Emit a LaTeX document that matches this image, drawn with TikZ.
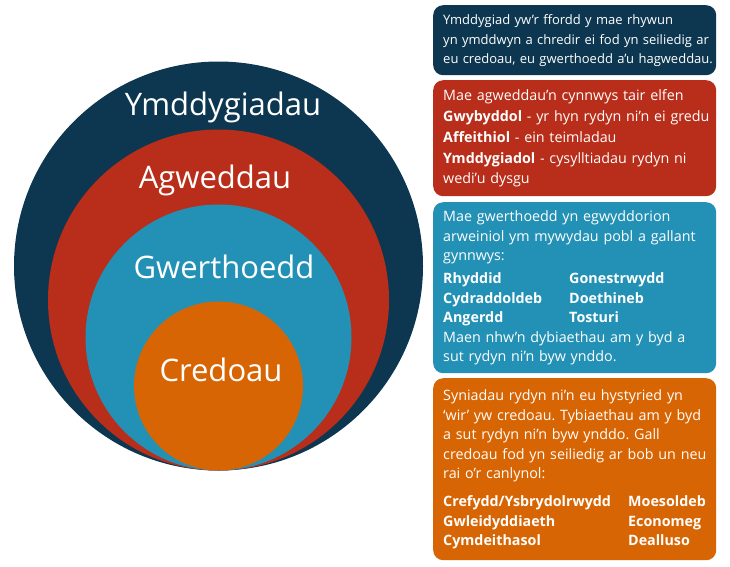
\documentclass[tikz,border=0pt]{standalone}
\usepackage{fontspec}
\setmainfont{Open Sans}
\definecolor{navy}{HTML}{0D3750}
\definecolor{brick}{HTML}{B82E1A}
\definecolor{teal}{HTML}{2391B5}
\definecolor{amber}{HTML}{D86503}
\frenchspacing
\begin{document}
\begin{tikzpicture}[x=1pt,y=1pt,every text node part/.style={align=left},
    ring/.style={circle,inner sep=0pt},
    ringlabel/.style={text=white,anchor=base,font=\fontsize{31}{31}\selectfont},
    infobox/.style={rounded corners=10pt,text=white,anchor=north west,
      text width=263pt,inner xsep=10pt,inner ysep=0pt,
      font=\fontsize{14.3}{#1}\selectfont},
    infobox/.default=20]

    \useasboundingbox (0,0) rectangle (730,-566);

    % --------------------------------------------------------- %
    % ------------- nested circles
    % --------------------------------------------------------- %
    \node[ring,fill=navy,minimum size=409pt] (behav) at (218.5,-266) {};
    \node[ring,fill=brick,minimum size=341pt] (attit) at (218.5,-300) {};
    \node[ring,fill=teal,minimum size=266pt] (values) at (218.5,-337.5) {};
    \node[ring,fill=amber,minimum size=169pt] (belief) at (218.5,-386) {};

    % --- circle labels
    \node[ringlabel] (behavlbl) at (223,-115) {Ymddygiadau};
    \node[ringlabel] (attitlbl) at (215,-188) {Agweddau};
    \node[ringlabel] (valueslbl) at (224,-278) {Gwerthoedd};
    \node[ringlabel] (belieflbl) at (221,-381) {Credoau};

    % --------------------------------------------------------- %
    % ------------ text boxes
    % --------------------------------------------------------- %
    % --- behaviour box
    \node[infobox,fill=navy,minimum height=70pt,font=\fontsize{13}{19.5}\selectfont]
      (behavbox) at (433,-5)
      {\begin{tabular}{@{}l@{}}
       Ymddygiad yw’r ffordd y mae rhywun\\
       yn ymddwyn a chredir ei fod yn seiliedig ar\\
       eu credoau, eu gwerthoedd a’u hagweddau.
       \end{tabular}};
    % --- attitudes box
    \node[infobox=20.8,fill=brick,minimum height=116pt] (attitbox) at (433,-80)
      {\begin{tabular}{@{}l@{}}
       Mae agweddau’n cynnwys tair elfen\\
       \textbf{Gwybyddol} - yr hyn rydyn ni’n ei gredu\\
       \textbf{Affeithiol} - ein teimladau\\
       \textbf{Ymddygiadol} - cysylltiadau rydyn ni\\
       wedi’u dysgu
       \end{tabular}};
    % --- values box
    \node[infobox=19.4,fill=teal,minimum height=171pt] (valuesbox) at (433,-202)
      {\begin{tabular}{@{}l@{}}
       Mae gwerthoedd yn egwyddorion\\
       arweiniol ym mywydau pobl a gallant\\
       gynnwys:\\[4pt]
       \makebox[126pt][l]{\textbf{Rhyddid}}\textbf{Gonestrwydd}\\
       \makebox[126pt][l]{\textbf{Cydraddoldeb}}\textbf{Doethineb}\\
       \makebox[126pt][l]{\textbf{Angerdd}}\textbf{Tosturi}\\
       Maen nhw’n dybiaethau am y byd a\\
       sut rydyn ni’n byw ynddo.
       \end{tabular}};
    % --- beliefs box
    \node[infobox=19.6,fill=amber,minimum height=182pt] (beliefbox) at (433,-378)
      {\begin{tabular}{@{}l@{}}
       Syniadau rydyn ni’n eu hystyried yn\\
       ‘wir’ yw credoau. Tybiaethau am y byd\\
       a sut rydyn ni’n byw ynddo. Gall\\
       credoau fod yn seiliedig ar bob un neu\\
       rai o’r canlynol:\\[8pt]
       \makebox[185pt][l]{\textbf{Crefydd/Ysbrydolrwydd}}\textbf{Moesoldeb}\\
       \makebox[185pt][l]{\textbf{Gwleidyddiaeth}}\textbf{Economeg}\\
       \makebox[185pt][l]{\textbf{Cymdeithasol}}\textbf{Dealluso}
       \end{tabular}};

  \end{tikzpicture}
\end{document}
